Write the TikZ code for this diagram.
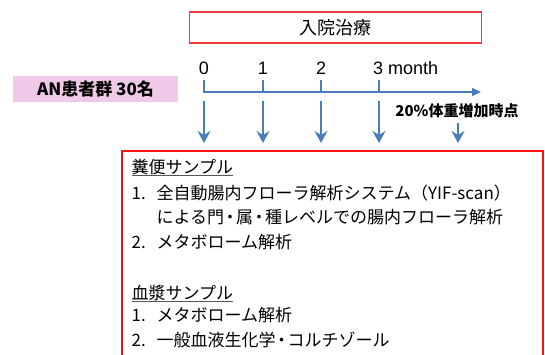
\documentclass[tikz,border=0pt]{standalone}
\usepackage{fontspec}
\setmainfont{Noto Sans CJK JP}
\newfontfamily\latinfont{Liberation Sans}
\usetikzlibrary{arrows.meta}
\definecolor{tlblue}{HTML}{4A7EBB}
\definecolor{boxred}{HTML}{FF1010}
\definecolor{topred}{HTML}{EE3B3B}
\definecolor{anpink}{HTML}{F0C8E8}
\definecolor{ulgray}{HTML}{555555}
\newcommand{\nkdot}{\makebox[12pt][c]{・}}
\begin{document}
\begin{tikzpicture}[x=1pt,y=-1pt,
  lbl/.style={inner sep=0pt,font=\latinfont\fontsize{18}{18}\selectfont},
  tline/.style={tlblue,line width=1.4pt},
  downarr/.style={tlblue,line width=2.6pt,-{Stealth[length=12pt,width=13pt,inset=4pt]}},
  boxline/.style={anchor=west,inner sep=0pt,font=\fontsize{17}{17}\selectfont},
  ul/.style={ulgray,line width=1.3pt}]
\useasboundingbox (0,0) rectangle (545,354);

% top box
\node[draw=topred,line width=1.7pt,minimum width=292pt,minimum height=31pt,inner sep=0pt,
      font=\fontsize{18}{18}\selectfont] (treat) at (335.5,27.8) {入院治療};

% patient group
\node[fill=anpink,minimum width=165.6pt,minimum height=26.7pt,inner sep=0pt,
      font=\bfseries\fontsize{17}{17}\selectfont] (an) at (95.5,89) {AN患者群 30名};

% timeline
\coordinate (k0) at (204,80);
\coordinate (t0) at (204,92);
\coordinate (tend) at (481,92);
\coordinate (k1) at (263,80);  \coordinate (b1) at (263,92);
\coordinate (k2) at (321,80);  \coordinate (b2) at (321,92);
\coordinate (k3) at (379,80);  \coordinate (b3) at (379,92);
\draw[tline,-{Triangle[length=9pt,width=8pt]}] (k0) -- (t0) -- (tend);
\draw[tline] (k1) -- (b1);
\draw[tline] (k2) -- (b2);
\draw[tline] (k3) -- (b3);

\node[lbl] (m0) at (204,68.3) {0};
\node[lbl] (m1) at (263,68.3) {1};
\node[lbl] (m2) at (321,68.3) {2};
\node[lbl,anchor=west] (m3) at (373,68.3) {3 month};

% down arrows
\coordinate (a0s) at (204,101); \coordinate (a0e) at (204,143);
\coordinate (a1s) at (263,101); \coordinate (a1e) at (263,143);
\coordinate (a2s) at (321,101); \coordinate (a2e) at (321,143);
\coordinate (a3s) at (379,101); \coordinate (a3e) at (379,143);
\coordinate (a4s) at (458,123); \coordinate (a4e) at (458,143);
\draw[downarr] (a0s) -- (a0e);
\draw[downarr] (a1s) -- (a1e);
\draw[downarr] (a2s) -- (a2e);
\draw[downarr] (a3s) -- (a3e);
\draw[downarr] (a4s) -- (a4e);

\node[inner sep=0pt,font=\bfseries\fontsize{15}{15}\selectfont] (gain) at (457,111) {20\%体重増加時点};

% sample box
\draw[boxred,line width=1.6pt] (122,151) rectangle (543,372);

\node[boxline] (h1) at (131.5,167.3) {糞便サンプル};
\node[boxline] (f1) at (131.5,192.7) {\makebox[25pt][l]{1.}全自動腸内フローラ解析システム（YIF-scan）};
\node[boxline] (f1b) at (156.5,217.3) {による門\nkdot 属\nkdot 種レベルでの腸内フローラ解析};
\node[boxline] (f2) at (131.5,241.7) {\makebox[25pt][l]{2.}メタボローム解析};
\node[boxline] (h2) at (131.5,292.7) {血漿サンプル};
\node[boxline] (p1) at (131.5,315.5) {\makebox[25pt][l]{1.}メタボローム解析};
\node[boxline] (p2) at (131.5,340) {\makebox[25pt][l]{2.}一般血液生化学\nkdot コルチゾール};

\draw[ul] ([yshift=-8.5pt]h1.west) -- ([yshift=-8.5pt]h1.east);
\draw[ul] ([yshift=-8.5pt]h2.west) -- ([yshift=-8.5pt]h2.east);
\end{tikzpicture}
\end{document}
